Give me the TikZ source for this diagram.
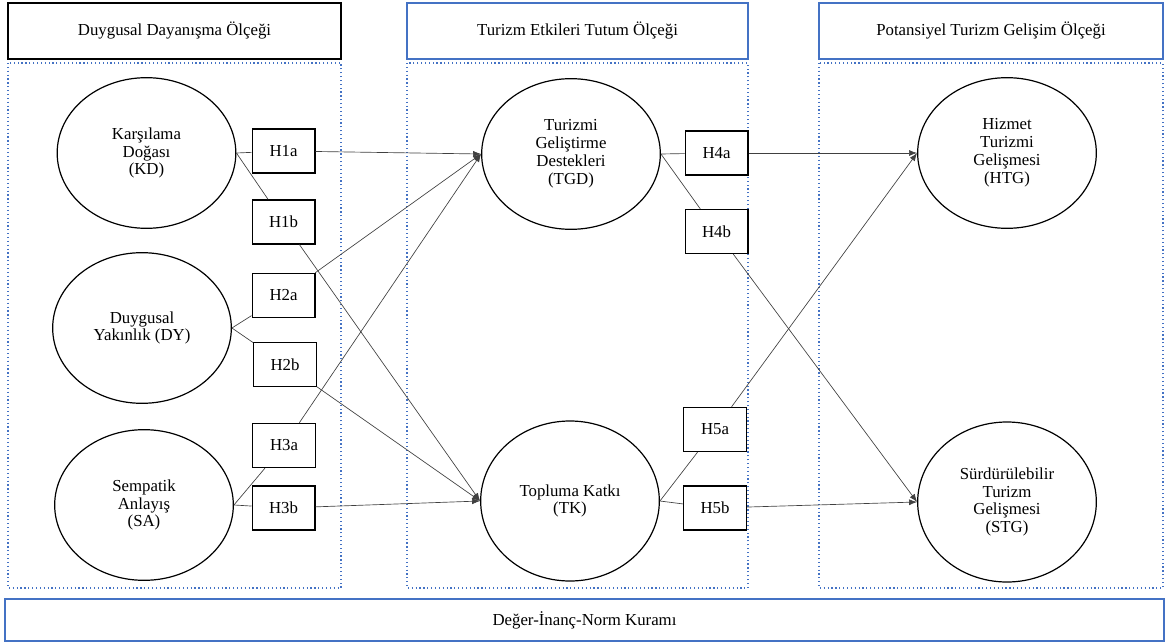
\documentclass[tikz,border=0pt]{standalone}
\usepackage{fontspec}
\setmainfont{Liberation Serif}
\usepackage{tikz}
\usetikzlibrary{shapes,arrows.meta,positioning}
\definecolor{wordblue}{RGB}{68,114,196}

\begin{document}
\begin{tikzpicture}[
    x=0.75pt, y=-0.75pt,
    >={Latex[length=6pt,width=4.5pt]},
    font=\fontsize{12.6}{13.4}\selectfont,
    header/.style={rectangle, draw=wordblue, line width=1.1pt, minimum height=42pt, inner sep=0pt},
    panel/.style={draw=wordblue, dotted, line width=0.9pt},
    construct/.style={ellipse, draw, line width=0.9pt, minimum width=134pt, minimum height=113pt, inner sep=0pt, align=center},
    hyp/.style={rectangle, draw, line width=1pt, minimum width=47pt, minimum height=33pt, inner sep=0pt},
    link/.style={draw=black!75, line width=0.5pt}
]
    \useasboundingbox (0,0) rectangle (1165,642);

    % Headers
    \node[header, draw=black, minimum width=249.75pt] (h1) at (174.5,31) {Duygusal Dayanışma Ölçeği};
    \node[header, minimum width=255.75pt] (h2) at (577.5,31) {Turizm Etkileri Tutum Ölçeği};
    \node[header, minimum width=258pt] (h3) at (991,31) {Potansiyel Turizm Gelişim Ölçeği};

    % Panels
    \draw[panel] (8,63) rectangle (341,588);
    \draw[panel] (407,63) rectangle (748,588);
    \draw[panel] (819,63) rectangle (1163,588);

    % Theory
    \node[header, minimum width=869pt, minimum height=31.5pt] (theory) at (584.5,620) {Değer-İnanç-Norm Kuramı};

    % Constructs
    \node[construct] (KD) at (146.5,153) {Karşılama\\Doğası\\(KD)};
    \node[construct] (DY) at (142,328) {Duygusal\\Yakınlık (DY)};
    \node[construct] (SA) at (144,505) {Sempatik\\Anlayış\\(SA)};
    \node[construct] (TGD) at (571,154) {Turizmi\\Geliştirme\\Destekleri\\(TGD)};
    \node[construct, minimum height=120pt] (TK) at (570,501) {Topluma Katkı\\(TK)};
    \node[construct] (HTG) at (1007,153) {Hizmet\\Turizmi\\Gelişmesi\\(HTG)};
    \node[construct, minimum height=120pt] (STG) at (1007,502) {Sürdürülebilir\\Turizm\\Gelişmesi\\(STG)};

    % Hypotheses
    \node[hyp] (H1a) at (283.5,151) {H1a};
    \node[hyp] (H1b) at (283.5,222) {H1b};
    \node[hyp] (H2a) at (283.5,295.5) {H2a};
    \node[hyp] (H2b) at (285,364.5) {H2b};
    \node[hyp] (H3a) at (284,445.5) {H3a};
    \node[hyp] (H3b) at (283.5,508) {H3b};
    \node[hyp] (H4a) at (716.5,153) {H4a};
    \node[hyp] (H4b) at (716.5,231.5) {H4b};
    \node[hyp] (H5a) at (715,429.5) {H5a};
    \node[hyp] (H5b) at (715,508) {H5b};

    % Paths
    \draw[link] (KD.east) -- (H1a);
    \draw[link, ->] (H1a) -- (TGD.west);
    \draw[link] (KD.east) -- (H1b);
    \draw[link, ->] (H1b) -- (TK.west);
    \draw[link] (DY.east) -- (H2a);
    \draw[link, ->] (H2a) -- (TGD.west);
    \draw[link] (DY.east) -- (H2b);
    \draw[link, ->] (H2b) -- (TK.west);
    \draw[link] (SA.east) -- (H3a);
    \draw[link, ->] (H3a) -- (TGD.west);
    \draw[link] (SA.east) -- (H3b);
    \draw[link, ->] (H3b) -- (TK.west);
    \draw[link] (TGD.east) -- (H4a);
    \draw[link, ->] (H4a) -- (HTG.west);
    \draw[link] (TGD.east) -- (H4b);
    \draw[link, ->] (H4b) -- (STG.west);
    \draw[link] (TK.east) -- (H5a);
    \draw[link, ->] (H5a) -- (HTG.west);
    \draw[link] (TK.east) -- (H5b);
    \draw[link, ->] (H5b) -- (STG.west);
\end{tikzpicture}
\end{document}
